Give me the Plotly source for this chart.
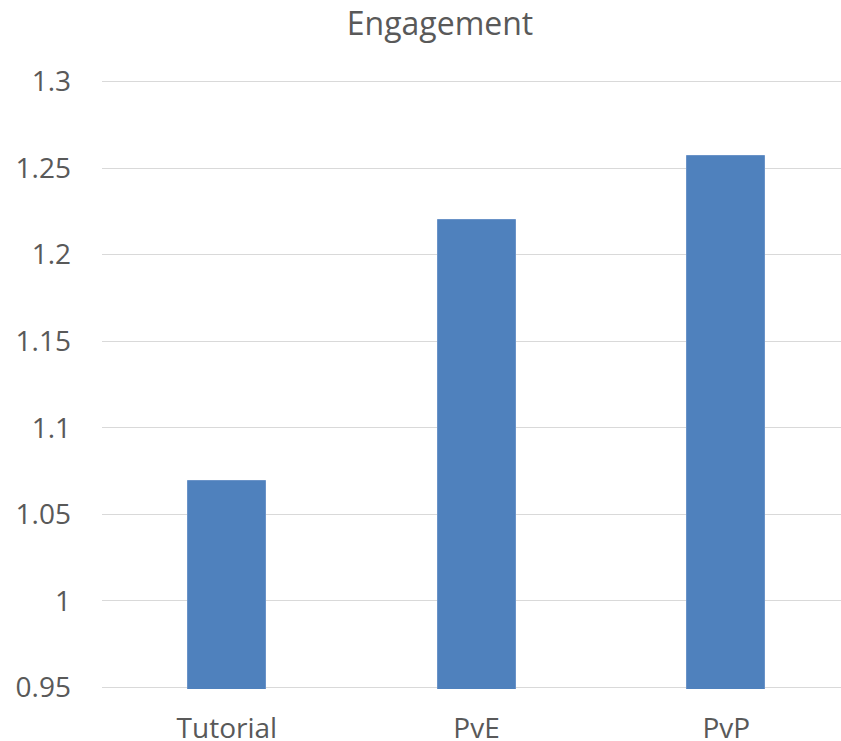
import plotly.graph_objects as go

categories = ["Tutorial", "PvE", "PvP"]
values = [1.069, 1.220, 1.257]
y_ticks = [0.95, 1.0, 1.05, 1.1, 1.15, 1.2, 1.25, 1.3]
y_tick_labels = ["0.95", "1", "1.05", "1.1", "1.15", "1.2", "1.25", "1.3"]

W, H = 841, 741
L, T, B = 102, 81, 53
px_per_unit = 607 / 0.35
pad = 1.5 / px_per_unit  # keep the edge gridlines drawn

fig = go.Figure(go.Bar(
    x=[0, 1, 2], y=values, base=0,
    marker=dict(color="#4F81BD", line=dict(color="#6A93C8", width=1)),
    width=0.312,
))
fig.update_layout(
    width=W, height=H,
    margin=dict(l=L, r=0, t=T - 1.5, b=B - 1.5, pad=0, autoexpand=False),
    paper_bgcolor="white", plot_bgcolor="white",
    font=dict(family="Open Sans", size=28, color="#595959"),
    title=dict(text="Engagement", x=440 / W, xref="container", xanchor="center",
               y=1 - 24 / H, yref="container", yanchor="middle",
               font=dict(family="Open Sans", size=32, color="#595959")),
    showlegend=False,
    bargap=0,
)
fig.update_xaxes(
    range=[-0.5, -0.5 + (W - L) / 249.7],
    tickvals=[0, 1, 2], ticktext=categories,
    showgrid=False, zeroline=False, showline=False, ticks="",
    ticklabelstandoff=20, automargin=False,
)
fig.update_yaxes(
    range=[0.95 - pad, 1.3 + pad], tickvals=y_ticks, ticktext=y_tick_labels,
    showgrid=True, gridcolor="#D9D9D9", gridwidth=1.3,
    zeroline=False, showline=False, ticks="",
    ticklabelstandoff=30, automargin=False,
)
fig.write_html(
    "out.html",
    config={"displayModeBar": False},
    post_script="document.body.style.margin='0';document.body.style.overflow='hidden';",
)
